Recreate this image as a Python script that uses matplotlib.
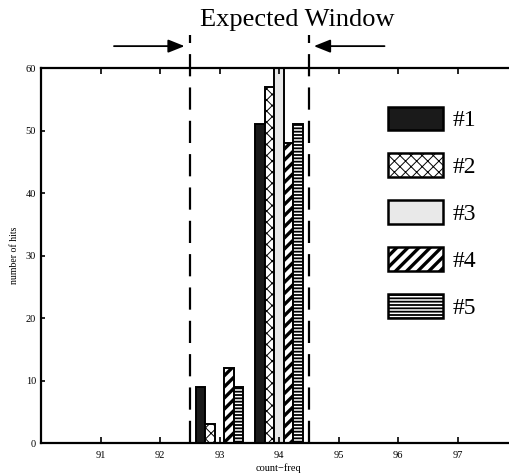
import matplotlib.pyplot as plt
import numpy as np

bins = [93, 94]
labels = ['#1', '#2', '#3', '#4', '#5']
hits = {
    '#1': [9, 51],
    '#2': [3, 57],
    '#3': [0, 60],
    '#4': [12, 48],
    '#5': [9, 51],
}
window = [92.5, 94.5]

plt.rcParams['font.family'] = ['Liberation Serif', 'DejaVu Serif']
plt.rcParams['hatch.color'] = 'black'

styles = {
    '#1': dict(color='#1a1a1a', hatch=None, hlw=1.0),
    '#2': dict(color='white', hatch='xxx', hlw=0.7),
    '#3': dict(color='#e9e9e9', hatch=None, hlw=1.0),
    '#4': dict(color='white', hatch='///', hlw=2.4),
    '#5': dict(color='white', hatch='-----', hlw=1.3),
}


def set_hlw(patch, lw):
    try:
        patch.set_hatch_linewidth(lw)
    except AttributeError:
        pass


fig = plt.figure(figsize=(5.09, 4.73), dpi=100)
ax = fig.add_axes([41 / 509, 30 / 473, 476 / 509, 375 / 473])

w = 0.16
x = np.array(bins, dtype=float)
handles = []
for i, lab in enumerate(labels):
    st = styles[lab]
    bars = ax.bar(x + (i - 2) * w, hits[lab], width=w, color=st['color'],
                  edgecolor='black', linewidth=1.4, hatch=st['hatch'],
                  label=lab)
    for b in bars:
        set_hlw(b, st['hlw'])
    handles.append(bars)

ax.set_xlim(90, 98)
ax.set_ylim(0, 60)
ax.set_xticks(range(91, 98))
ax.set_yticks(range(0, 61, 10))
ax.tick_params(axis='x', direction='in', top=True, length=4, width=1.2,
               labelsize=7.5, pad=6)
ax.tick_params(axis='y', direction='in', length=3, width=1.2, labelsize=7.5)
for s in ax.spines.values():
    s.set_linewidth(1.6)
ax.set_xlabel('count\u2212freq', fontsize=7.5, labelpad=2)
ax.set_ylabel('number of hits', fontsize=7, labelpad=5)

# expected window lines and arrows
for xv in window:
    ax.plot([xv, xv], [0, 65.3], color='black', lw=1.6, dashes=(10, 5),
            clip_on=False)
ax.annotate('', xy=(window[0] - 0.04, 63.5), xytext=(91.18, 63.5),
            annotation_clip=False,
            arrowprops=dict(arrowstyle='-|>,head_length=1.0,head_width=0.4',
                            color='black', lw=1.3))
ax.annotate('', xy=(window[1] + 0.04, 63.5), xytext=(95.82, 63.5),
            annotation_clip=False,
            arrowprops=dict(arrowstyle='-|>,head_length=1.0,head_width=0.4',
                            color='black', lw=1.3))
fig.text(297 / 509, 1 - 20 / 473, 'Expected Window', fontsize=19,
         ha='center', va='center')

leg = ax.legend(handles=handles, loc='upper left',
                bbox_to_anchor=(371 / 509, 1 - 90 / 473),
                bbox_transform=fig.transFigure, frameon=False,
                fontsize=17, handlelength=2.35, handleheight=1.15,
                labelspacing=0.94, handletextpad=0.4, borderpad=0.2)
for p, lab in zip(leg.get_patches(), labels):
    p.set_linewidth(1.8)
    set_hlw(p, styles[lab]['hlw'])

fig.savefig('out.png', dpi=100)
